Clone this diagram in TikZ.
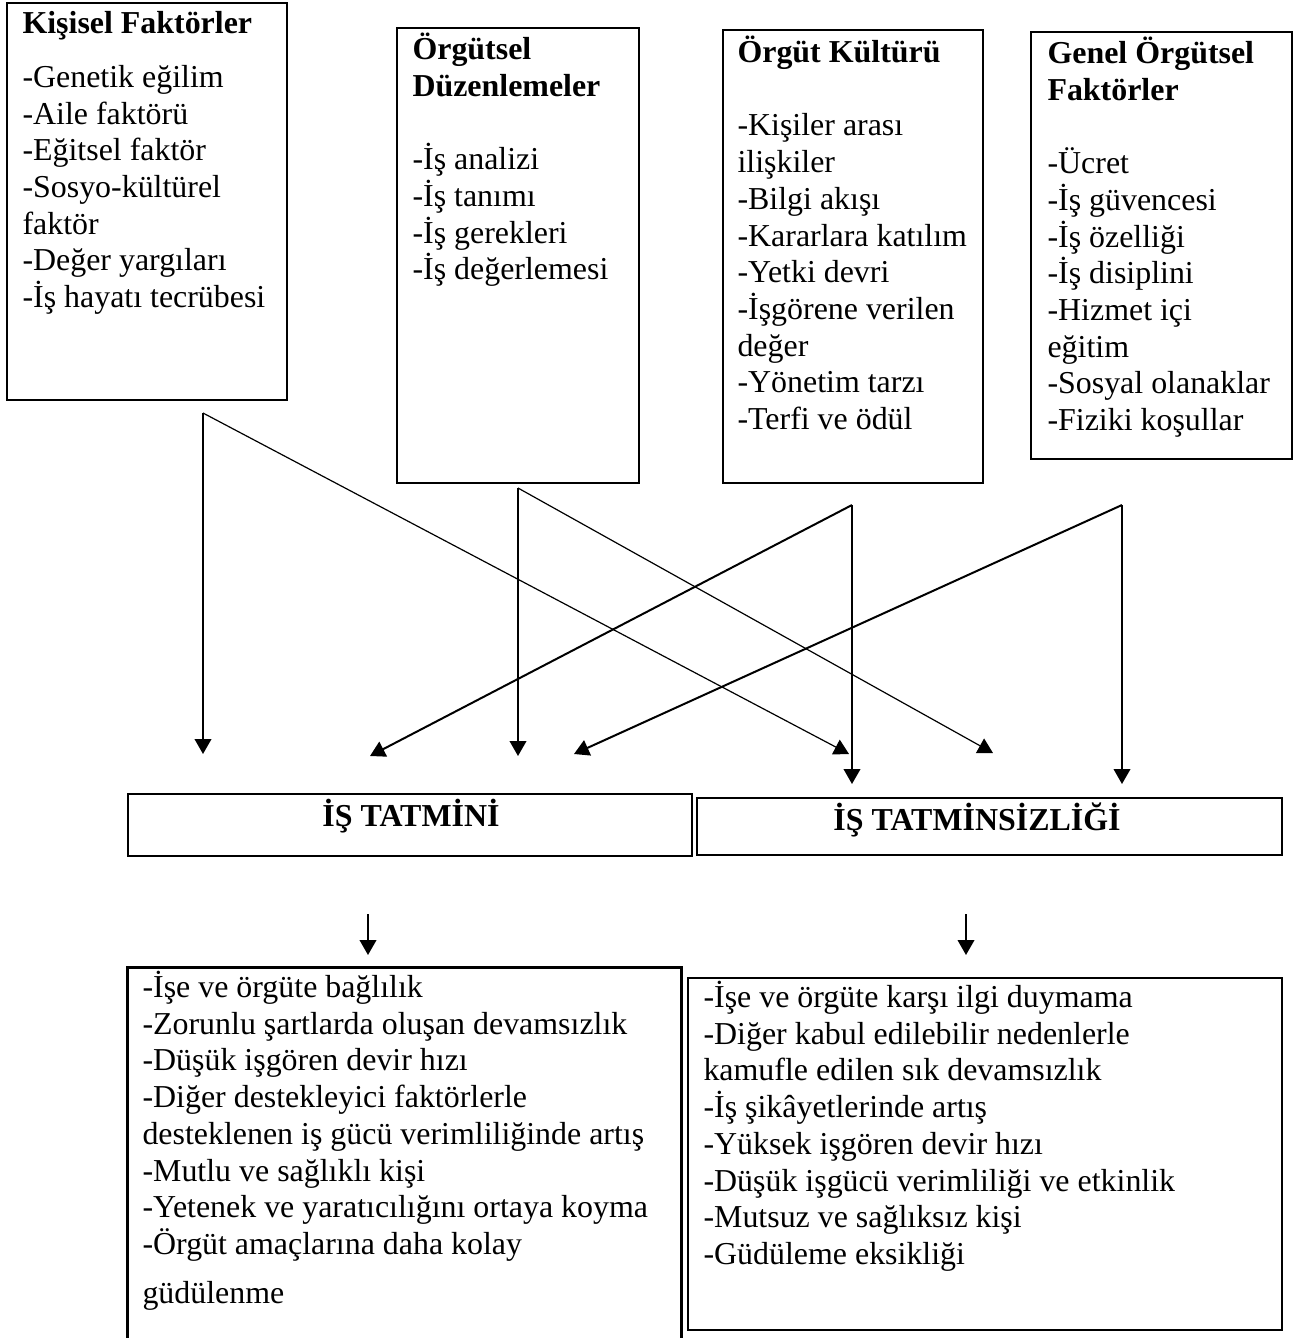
\documentclass[tikz,border=0pt]{standalone}
\usepackage{fontspec}
\setmainfont{Liberation Serif}
\usetikzlibrary{arrows.meta,fit}
\newcommand{\fl}{\rule{0pt}{11pt}}
\begin{document}
\begin{tikzpicture}[x=0.376pt,y=-0.376pt,
  frame/.style={draw,line width=0.9pt,inner sep=0pt},
  txt/.style={anchor=north west,inner sep=0pt,align=left,
    font=\fontsize{12}{13.8}\selectfont},
  head/.style={anchor=base,inner sep=0pt,font=\fontsize{12}{13.8}\selectfont\bfseries},
  link/.style={line width=0.75pt,-{Triangle[width=6.2pt,length=5.6pt]}},
  thinlink/.style={line width=0.45pt,-{Triangle[width=6.2pt,length=5.6pt]}}]
\useasboundingbox (0,0) rectangle (1300,1338);

% factor boxes
\node[frame,fit={(7,3)(287,400)}] (kisisel) {};
\node[txt] (kisiselT) at (22,3.7) {\fl\textbf{Kişisel Faktörler}\\[6.5pt]
  -Genetik eğilim\\ -Aile faktörü\\ -Eğitsel faktör\\ -Sosyo-kültürel\\ faktör\\
  -Değer yargıları\\ -İş hayatı tecrübesi};

\node[frame,fit={(397,28)(639,483)}] (duzen) {};
\node[txt] (duzenT) at (412,29.7) {\fl\textbf{Örgütsel}\\ \textbf{Düzenlemeler}\\[13.8pt]
  -İş analizi\\ -İş tanımı\\ -İş gerekleri\\ -İş değerlemesi};

\node[frame,fit={(723,30)(983,483)}] (kultur) {};
\node[txt] (kulturT) at (737,32.7) {\fl\textbf{Örgüt Kültürü}\\[13.8pt]
  -Kişiler arası\\ ilişkiler\\ -Bilgi akışı\\ -Kararlara katılım\\ -Yetki devri\\
  -İşgörene verilen\\ değer\\ -Yönetim tarzı\\ -Terfi ve ödül};

\node[frame,fit={(1031,32)(1292,459)}] (genel) {};
\node[txt] (genelT) at (1047,33.7) {\fl\textbf{Genel Örgütsel}\\ \textbf{Faktörler}\\[13.8pt]
  -Ücret\\ -İş güvencesi\\ -İş özelliği\\ -İş disiplini\\ -Hizmet içi\\ eğitim\\
  -Sosyal olanaklar\\ -Fiziki koşullar};

% outcome boxes
\node[frame,fit={(128,794)(692,856)}] (tatmin) {};
\node[head] (tatminT) at (411,826) {İŞ TATMİNİ};
\node[frame,fit={(697,798)(1282,855)}] (tatminsiz) {};
\node[head] (tatminsizT) at (977,830) {İŞ TATMİNSİZLİĞİ};

% result lists
\node[inner sep=0pt,fit={(128,968)(681,1338)}] (sonuc1) {};
\draw[line width=0.9pt] (sonuc1.south west) |- (sonuc1.north east) -- (sonuc1.south east);
\node[txt] (sonuc1T) at (142,967.7) {\fl-İşe ve örgüte bağlılık\\
  -Zorunlu şartlarda oluşan devamsızlık\\ -Düşük işgören devir hızı\\
  -Diğer destekleyici faktörlerle\\ desteklenen iş gücü verimliliğinde artış\\
  -Mutlu ve sağlıklı kişi\\ -Yetenek ve yaratıcılığını ortaya koyma\\
  -Örgüt amaçlarına daha kolay\\[4.6pt] güdülenme};

\node[frame,fit={(688,978)(1282,1330)}] (sonuc2) {};
\node[txt] (sonuc2T) at (703,977.7) {\fl-İşe ve örgüte karşı ilgi duymama\\
  -Diğer kabul edilebilir nedenlerle\\ kamufle edilen sık devamsızlık\\
  -İş şikâyetlerinde artış\\ -Yüksek işgören devir hızı\\
  -Düşük işgücü verimliliği ve etkinlik\\ -Mutsuz ve sağlıksız kişi\\
  -Güdüleme eksikliği};

% connector origins and tips
\coordinate (c1) at (203,413);
\coordinate (c2) at (518,488);
\coordinate (c3) at (852,505);
\coordinate (c4) at (1122,505);
\coordinate (t1) at (203,754);
\coordinate (t2) at (849,754);
\coordinate (t3) at (518,756);
\coordinate (t4) at (993,753);
\coordinate (t5) at (852,784);
\coordinate (t6) at (370,756);
\coordinate (t7) at (1122,784);
\coordinate (t8) at (574,754);
\coordinate (d1) at (368,914);
\coordinate (e1) at (368,955);
\coordinate (d2) at (966,914);
\coordinate (e2) at (966,955);

\draw[link] (c1) -- (t1);
\draw[thinlink] (c1) -- (t2);
\draw[link] (c2) -- (t3);
\draw[thinlink] (c2) -- (t4);
\draw[link] (c3) -- (t5);
\draw[link] (c3) -- (t6);
\draw[link] (c4) -- (t7);
\draw[link] (c4) -- (t8);
\draw[link] (d1) -- (e1);
\draw[link] (d2) -- (e2);
\end{tikzpicture}
\end{document}
